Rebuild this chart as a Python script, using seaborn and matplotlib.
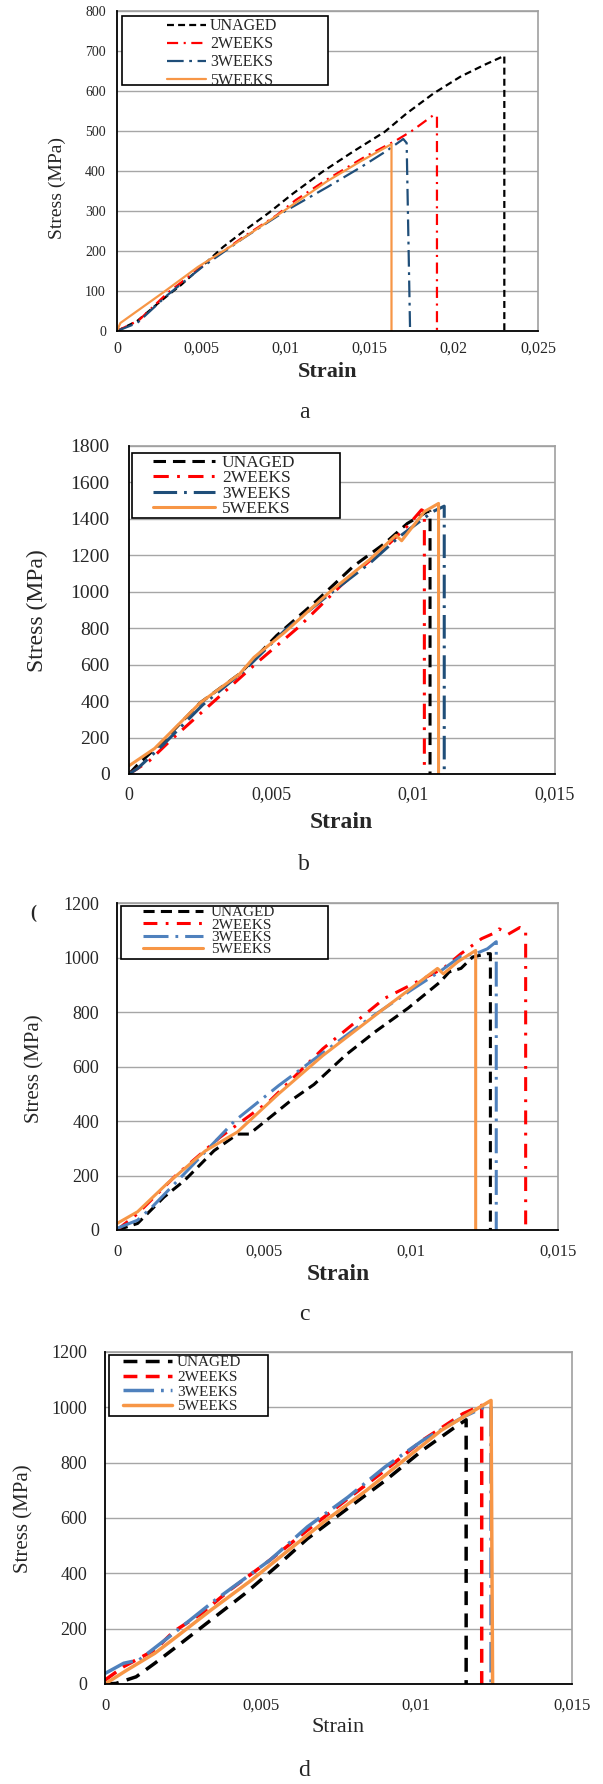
import matplotlib
matplotlib.use("Agg")
import matplotlib.pyplot as plt
import seaborn as sns
from matplotlib.patches import Rectangle
from matplotlib.ticker import FuncFormatter, MultipleLocator

series_names = ["UNAGED", "2WEEKS", "3WEEKS", "5WEEKS"]

# ---- panel a ----
a_unaged_strain = [0, 0.0012, 0.0026, 0.0038, 0.005, 0.0063, 0.0076, 0.009, 0.0104, 0.0122, 0.014, 0.0159, 0.0172, 0.0188, 0.0204, 0.0218, 0.0230, 0.0230]
a_unaged_stress = [0, 25, 75, 115, 160, 210, 252, 295, 342, 398, 448, 498, 544, 594, 636, 665, 688, 0]
a_2w_strain = [0, 0.0013, 0.003, 0.005, 0.0075, 0.0095, 0.0106, 0.0124, 0.0147, 0.0166, 0.0175, 0.0188, 0.0190, 0.0190]
a_2w_stress = [0, 27, 95, 160, 235, 290, 327, 377, 435, 477, 500, 540, 538, 0]
a_3w_strain = [0, 0.0012, 0.003, 0.005, 0.0075, 0.0100, 0.0125, 0.0145, 0.0160, 0.0170, 0.0172, 0.0174]
a_3w_stress = [0, 20, 90, 158, 232, 300, 360, 410, 450, 480, 470, 10]
a_5w_strain = [0, 0.0002, 0.0027, 0.0048, 0.0070, 0.0099, 0.0125, 0.0145, 0.0163, 0.0163]
a_5w_stress = [0, 20, 95, 160, 218, 300, 375, 425, 467, 0]

# ---- panel b ----
b_unaged_strain = [0, 0.0003, 0.0012, 0.0025, 0.0039, 0.0052, 0.0066, 0.0079, 0.0090, 0.0098, 0.0105, 0.0106, 0.0106]
b_unaged_stress = [0, 50, 180, 390, 550, 760, 950, 1140, 1265, 1375, 1440, 1440, 0]
b_2w_strain = [0, 0.0007, 0.0015, 0.003, 0.0045, 0.006, 0.0075, 0.009, 0.0098, 0.0103, 0.0104, 0.0104]
b_2w_stress = [0, 70, 190, 400, 610, 810, 1040, 1240, 1360, 1450, 1440, 20]
b_3w_strain = [0, 0.0003, 0.0012, 0.0026, 0.004, 0.0055, 0.007, 0.0085, 0.0095, 0.0107, 0.0111, 0.0111]
b_3w_stress = [0, 30, 160, 380, 560, 790, 980, 1160, 1300, 1440, 1470, 0]
b_5w_strain = [0, 0.0009, 0.0025, 0.0039, 0.0044, 0.0055, 0.007, 0.0085, 0.0094, 0.0096, 0.0104, 0.0109, 0.0109]
b_5w_stress = [45, 140, 390, 550, 640, 780, 990, 1180, 1310, 1280, 1440, 1485, 0]

# ---- panel c ----
c_unaged_strain = [0, 0.0007, 0.0016, 0.0023, 0.0033, 0.0041, 0.0045, 0.0052, 0.0059, 0.0067, 0.0078, 0.0088, 0.0099, 0.0110, 0.0113, 0.0117, 0.0121, 0.0126, 0.0127, 0.0127]
c_unaged_stress = [0, 24, 121, 182, 291, 352, 352, 413, 474, 534, 644, 729, 814, 911, 947, 960, 1002, 1014, 1014, 0]
c_2w_strain = [0, 0.0007, 0.002, 0.0035, 0.0052, 0.007, 0.0091, 0.0111, 0.0117, 0.0124, 0.0129, 0.0130, 0.0133, 0.0137, 0.0139, 0.0139]
c_2w_stress = [0, 60, 200, 340, 474, 665, 850, 960, 1014, 1069, 1093, 1105, 1085, 1110, 1100, 20]
c_3w_strain = [0, 0.0007, 0.0012, 0.0025, 0.004, 0.0055, 0.007, 0.0085, 0.0100, 0.0110, 0.0117, 0.0122, 0.0126, 0.0129, 0.0129]
c_3w_stress = [6, 36, 85, 230, 400, 530, 650, 770, 880, 950, 1005, 1014, 1032, 1058, 0]
c_5w_strain = [0, 0.0007, 0.0017, 0.003, 0.0041, 0.0055, 0.007, 0.0091, 0.0109, 0.0111, 0.0116, 0.0122, 0.0122]
c_5w_stress = [24, 67, 170, 290, 360, 500, 640, 814, 960, 940, 985, 1026, 0]

# ---- panel d ----
d_unaged_strain = [0, 0.00035, 0.001, 0.0016, 0.0023, 0.0034, 0.0045, 0.0055, 0.0065, 0.0078, 0.009, 0.0102, 0.0112, 0.0116, 0.0116]
d_unaged_stress = [0, 2, 26, 75, 135, 231, 327, 424, 525, 635, 735, 845, 925, 955, 0]
d_2w_strain = [0, 0.0006, 0.0016, 0.0022, 0.0031, 0.004, 0.0053, 0.0065, 0.0078, 0.009, 0.0102, 0.0115, 0.0121, 0.0121]
d_2w_stress = [14, 63, 123, 189, 255, 339, 448, 556, 670, 773, 881, 977, 1007, 0]
d_3w_strain = [0, 0.0006, 0.0011, 0.0022, 0.0035, 0.0053, 0.0065, 0.0078, 0.009, 0.0102, 0.0115, 0.0123, 0.0124, 0.0124]
d_3w_stress = [38, 75, 87, 183, 300, 448, 568, 675, 785, 880, 965, 1007, 1000, 0]
d_5w_strain = [0, 0.0007, 0.0016, 0.0023, 0.0034, 0.0047, 0.0059, 0.0071, 0.0084, 0.0096, 0.0108, 0.0124, 0.01245]
d_5w_stress = [0, 50, 111, 171, 267, 375, 484, 592, 700, 809, 917, 1025, 0]

panel_data = {
    "a": [(a_unaged_strain, a_unaged_stress), (a_2w_strain, a_2w_stress), (a_3w_strain, a_3w_stress), (a_5w_strain, a_5w_stress)],
    "b": [(b_unaged_strain, b_unaged_stress), (b_2w_strain, b_2w_stress), (b_3w_strain, b_3w_stress), (b_5w_strain, b_5w_stress)],
    "c": [(c_unaged_strain, c_unaged_stress), (c_2w_strain, c_2w_stress), (c_3w_strain, c_3w_stress), (c_5w_strain, c_5w_stress)],
    "d": [(d_unaged_strain, d_unaged_stress), (d_2w_strain, d_2w_stress), (d_3w_strain, d_3w_stress), (d_5w_strain, d_5w_stress)],
}

W, H = 603, 1784
sns.set_style("white")
plt.rcParams["font.family"] = ["Liberation Serif", "DejaVu Serif"]
plt.rcParams["lines.scale_dashes"] = False

NAVY = "#1F4E79"
LBLUE = "#4F81BD"
ORANGE = "#F79646"

# layout / style per panel (pixel boxes: left, top, right, bottom)
styles = {
    "a": dict(box=(117, 11, 538, 331), xmax=0.025, ymax=800, ystep=100, ytick_fs=10, xtick_fs=11.5, ypad=8, xpad=7,
              ylab=(57, 188, 14), xlab=(328, 372, 16, "bold"), letter=(304, 412),
              lw=1.6, colors=["black", "red", NAVY, ORANGE],
              dashes=[(5, 3), (8, 4, 1.5, 4), (12, 4, 2, 4), None],
              leg_box=(121.5, 16, 327.5, 85), leg_hx=167, leg_top=25, leg_fs=11.5, leg_hl=2.44, leg_pad=0.25, leg_sp=0.13),
    "b": dict(box=(129, 446, 555, 774), xmax=0.015, ymax=1800, ystep=200, ytick_fs=14, xtick_fs=13, ypad=14, xpad=9,
              ylab=(37, 611, 17), xlab=(341, 823, 17, "bold"), letter=(304, 865),
              lw=2.2, colors=["black", "red", NAVY, ORANGE],
              dashes=[(9, 5), (11, 6, 2, 6), (17, 5, 2, 5), None],
              leg_box=(132, 453, 340, 518), leg_hx=153, leg_top=462, leg_fs=12.5, leg_hl=3.57, leg_pad=0.4, leg_sp=-0.035),
    "c": dict(box=(117, 903, 558, 1230), xmax=0.015, ymax=1200, ystep=200, ytick_fs=13, xtick_fs=12, ypad=13, xpad=10,
              ylab=(35, 1069, 15), xlab=(338, 1275, 17, "bold"), letter=(304, 1315),
              lw=2.2, colors=["black", "red", LBLUE, ORANGE],
              dashes=[(8, 4.5), (10, 6, 2, 6), (18, 5, 2, 5), None],
              leg_box=(121, 906, 328, 959), leg_hx=143, leg_top=912, leg_fs=11, leg_hl=3.93, leg_pad=0.52, leg_sp=-0.085),
    "d": dict(box=(105, 1352, 572, 1684), xmax=0.015, ymax=1200, ystep=200, ytick_fs=13, xtick_fs=12, ypad=13, xpad=10,
              ylab=(24, 1519, 15), xlab=(338, 1728, 16, "normal"), letter=(304, 1770),
              lw=2.5, colors=["black", "red", LBLUE, ORANGE],
              dashes=[(10, 6), (10, 6), (22, 5, 2, 5), None],
              leg_box=(109, 1355, 268, 1416), leg_hx=123, leg_top=1362, leg_fs=11, leg_hl=3.2, leg_pad=0.33, leg_sp=0.065),
}

fig = plt.figure(figsize=(W / 100, H / 100), dpi=100)
fig.patch.set_facecolor("white")

comma_fmt = FuncFormatter(lambda v, _: ("%g" % round(v, 6)).replace(".", ","))
int_fmt = FuncFormatter(lambda v, _: "%d" % round(v))

for key in ["a", "b", "c", "d"]:
    st = styles[key]
    l, t, r, b = st["box"]
    aw, ah = r - l, b - t
    ax = fig.add_axes([l / W, 1 - b / H, aw / W, ah / H])

    for i, (xs, ys) in enumerate(panel_data[key]):
        sns.lineplot(x=xs, y=ys, ax=ax, sort=False, estimator=None, color=st["colors"][i],
                     linewidth=st["lw"], label=series_names[i], legend=False)
        line = ax.lines[-1]
        if st["dashes"][i] is not None:
            line.set_dashes(st["dashes"][i])
        line.set_zorder(3 + (i == 3) * 0.1)

    ax.set_xlim(0, st["xmax"])
    ax.set_ylim(0, st["ymax"])
    ax.xaxis.set_major_locator(MultipleLocator(0.005))
    ax.yaxis.set_major_locator(MultipleLocator(st["ystep"]))
    ax.xaxis.set_major_formatter(comma_fmt)
    ax.yaxis.set_major_formatter(int_fmt)
    ax.tick_params(axis="y", length=0, labelsize=st["ytick_fs"], pad=st["ypad"])
    ax.tick_params(axis="x", length=0, labelsize=st["xtick_fs"], pad=st["xpad"])
    ax.grid(axis="y", color="#A6A6A6", linewidth=1.0)
    ax.grid(axis="x", visible=False)
    ax.set_axisbelow(True)
    for side in ["left", "bottom"]:
        ax.spines[side].set_color("black")
        ax.spines[side].set_linewidth(1.3)
        ax.spines[side].set_zorder(6)
    for side in ["top", "right"]:
        ax.spines[side].set_color("#A0A0A0")
        ax.spines[side].set_linewidth(1.2)

    # axis labels
    lx, ly, lfs = st["ylab"]
    ax.set_ylabel("Stress (MPa)", fontsize=lfs, va="center", ha="center")
    ax.yaxis.set_label_coords((lx - l) / aw, (b - ly) / ah)
    xx, xy, xfs, xw = st["xlab"]
    ax.set_xlabel("Strain", fontsize=xfs, fontweight=xw, va="center", ha="center")
    ax.xaxis.set_label_coords((xx - l) / aw, (b - xy) / ah)
    px, py = st["letter"]
    fig.text(px / W, 1 - py / H, key, fontsize=17, ha="center", va="center")

    # legend frame + legend
    bx0, by0, bx1, by1 = st["leg_box"]
    ax.add_patch(Rectangle(((bx0 - l) / aw, (b - by1) / ah), (bx1 - bx0) / aw, (by1 - by0) / ah,
                           transform=ax.transAxes, facecolor="white", edgecolor="black",
                           linewidth=1.2, zorder=4.5, clip_on=False))
    fs_px = st["leg_fs"] * 100 / 72
    top_px = st["leg_top"] - 0.42 * fs_px
    leg = ax.legend(handles=ax.lines[:4], labels=series_names, loc="upper left",
                    bbox_to_anchor=((st["leg_hx"] - l) / aw, (b - top_px) / ah),
                    frameon=False, fontsize=st["leg_fs"], handlelength=st["leg_hl"],
                    handletextpad=st["leg_pad"], labelspacing=st["leg_sp"],
                    borderpad=0, borderaxespad=0)
    leg.set_zorder(5)

# stray mark left of panel c in the source image
fig.text(33 / W, 1 - 913 / H, "(", fontsize=13, fontweight="bold", ha="center", va="center")

fig.savefig("out.png", dpi=100, facecolor="white")
